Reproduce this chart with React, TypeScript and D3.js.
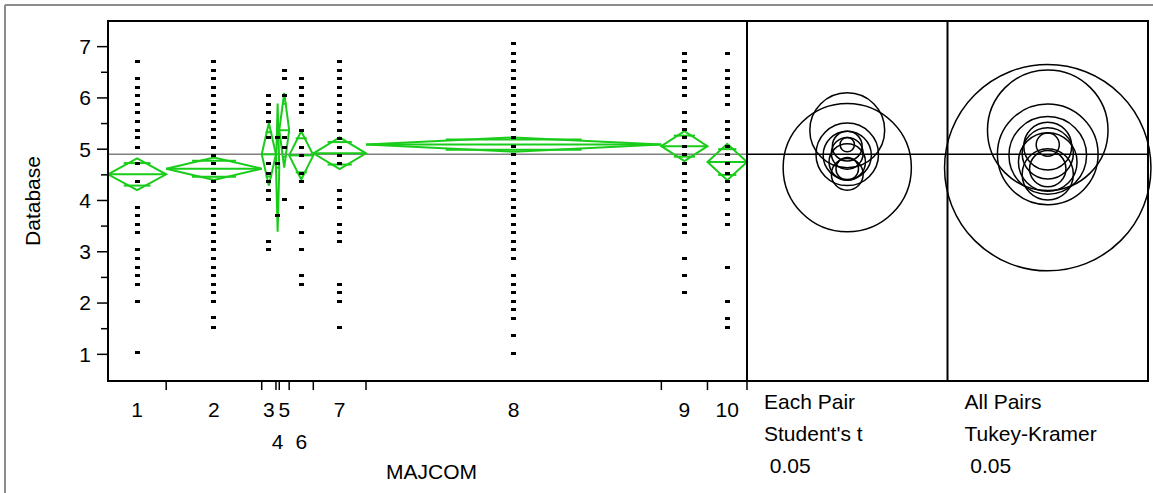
import * as d3 from 'd3';

// MAJCOM groups, sample sizes (x width), means and 95% CI half-widths
const groups = ['1', '2', '3', '4', '5', '6', '7', '8', '9', '10'];
const groupN = [53, 87, 13, 3, 9, 22, 48, 269, 42, 36];
const groupMean = [4.51, 4.62, 4.9, 4.64, 5.37, 4.88, 4.92, 5.09, 5.06, 4.75];
const groupCI = [0.31, 0.22, 0.61, 1.25, 0.73, 0.47, 0.31, 0.14, 0.29, 0.355];

// Database scores per group (distinct values visible)
const pts1 = [6.71, 6.37, 6.2, 6.04, 5.87, 5.71, 5.54, 5.37, 5.22, 5.04, 4.72, 4.37, 3.87, 3.7, 3.54, 3.37, 3.05, 2.87, 2.7, 2.54, 2.37, 2.03, 1.03];
const pts2 = [6.71, 6.54, 6.37, 6.2, 6.04, 5.88, 5.71, 5.54, 5.38, 5.22, 5.04, 4.87, 4.72, 4.53, 4.37, 4.2, 4.02, 3.87, 3.7, 3.54, 3.37, 3.2, 3.05, 2.87, 2.7, 2.54, 2.37, 2.2, 2.03, 1.72, 1.52];
const pts3 = [6.04, 5.88, 5.71, 5.54, 5.22, 4.72, 4.53, 4.37, 4.2, 4.02, 3.2, 3.05];
const pts4 = [5.22, 4.72, 3.7];
const pts5 = [6.54, 6.37, 6.04, 5.22, 5.04, 4.02];
const pts6 = [6.37, 6.2, 6.04, 5.88, 5.71, 5.37, 5.04, 4.87, 4.53, 4.37, 3.87, 3.37, 3.05, 2.54, 2.37];
const pts7 = [6.71, 6.54, 6.37, 6.2, 6.04, 5.88, 5.71, 5.54, 5.37, 5.2, 5.04, 4.87, 4.72, 4.2, 4.02, 3.87, 3.54, 3.37, 3.2, 2.37, 2.2, 2.03, 1.52];
const pts8 = [7.07, 6.87, 6.71, 6.54, 6.37, 6.2, 6.04, 5.88, 5.71, 5.54, 5.38, 5.22, 5.05, 4.89, 4.72, 4.53, 4.37, 4.2, 4.02, 3.87, 3.7, 3.54, 3.37, 3.2, 3.05, 2.87, 2.54, 2.37, 2.2, 2.03, 1.87, 1.7, 1.37, 1.02];
const pts9 = [6.87, 6.71, 6.54, 6.37, 6.2, 6.04, 5.71, 5.54, 5.38, 5.22, 5.05, 4.89, 4.72, 4.53, 4.37, 4.2, 4.02, 3.87, 3.7, 3.54, 3.37, 2.87, 2.54, 2.2];
const pts10 = [6.87, 6.54, 6.37, 6.2, 6.04, 5.88, 5.54, 5.38, 5.22, 5.05, 4.89, 4.72, 4.53, 4.37, 4.2, 4.02, 3.72, 3.54, 2.7, 2.03, 1.7, 1.52];
const groupPoints = [pts1, pts2, pts3, pts4, pts5, pts6, pts7, pts8, pts9, pts10];

const grandMean = 4.9;
const yTicks = [1, 2, 3, 4, 5, 6, 7];
const yMinorTicks = [1.5, 2.5, 3.5, 4.5, 5.5, 6.5];
const lowerRowLabels = ['4', '6'];
const eachPairLines = ['Each Pair', "Student's t", ' 0.05'];
const allPairsLines = ['All Pairs', 'Tukey-Kramer', ' 0.05'];
const tukeyFactor = 1.61; // q/sqrt(2) relative to t

const W = 1153;
const H = 493;
const left = 108;
const right = 747;
const top = 21;
const bottom = 381;
const panelW = 200.5;
const FONT = "'Liberation Sans', Arial, Helvetica, sans-serif";
const GREEN = '#19cc19';

export default function App() {
  const y = d3.scaleLinear().domain([0.48, 7.5]).range([bottom, top]);
  const pxPerUnit = y(0) - y(1);
  const total = d3.sum(groupN);
  const x = d3.scaleLinear().domain([0, total]).range([left, right]);
  const starts = [0, ...Array.from(d3.cumsum(groupN))];

  const p1c = right + panelW / 2;
  const p2c = right + panelW * 1.5;
  const farRight = right + panelW * 2;
  const line = d3.line();

  return (
    <svg
      width={W}
      height={H}
      style={{ position: 'absolute', left: 0, top: 0, background: '#fff' }}
      fontFamily={FONT}
    >
      <rect width={W} height={H} fill="#fff" />
      {/* outer window border */}
      <line x1={5} y1={5} x2={W} y2={5} stroke="#8c8c8c" strokeWidth={2} />
      <line x1={5} y1={5} x2={5} y2={H} stroke="#8c8c8c" strokeWidth={2} />

      {/* grand mean */}
      <line x1={left} x2={right} y1={y(grandMean)} y2={y(grandMean)} stroke="#808080" strokeWidth={1.5} />
      <line x1={right} x2={farRight} y1={y(grandMean)} y2={y(grandMean)} stroke="#000" strokeWidth={1.5} />

      {/* means diamonds */}
      {groups.map((g, i) => {
        const x0 = x(starts[i]);
        const x1 = x(starts[i + 1]);
        const xc = (x0 + x1) / 2;
        const w = x1 - x0;
        const m = groupMean[i];
        const ci = groupCI[i];
        const d = line([
          [x0, y(m)],
          [xc, y(m + ci)],
          [x1, y(m)],
          [xc, y(m - ci)],
        ]) + 'Z';
        const ov = ci / Math.SQRT2;
        return (
          <g key={'d' + g} stroke={GREEN} strokeWidth={2} fill="none">
            <path d={d} strokeLinejoin="miter" />
            <line x1={x0} x2={x1} y1={y(m)} y2={y(m)} />
            <line x1={xc - w * 0.23} x2={xc + w * 0.23} y1={y(m + ov)} y2={y(m + ov)} />
            <line x1={xc - w * 0.23} x2={xc + w * 0.23} y1={y(m - ov)} y2={y(m - ov)} />
          </g>
        );
      })}

      {/* points */}
      {groupPoints.map((vals, i) => {
        const xc = (x(starts[i]) + x(starts[i + 1])) / 2;
        return vals.map((v, j) => (
          <rect
            key={'p' + i + '-' + j}
            x={Math.round(xc - 2.5)}
            y={Math.round(y(v) - 1.5)}
            width={5}
            height={3}
            fill="#000"
          />
        ));
      })}

      {/* comparison circles */}
      {groups.map((g, i) => (
        <g key={'c' + g} fill="none" stroke="#000" strokeWidth={1.5}>
          <circle cx={p1c} cy={y(groupMean[i])} r={groupCI[i] * pxPerUnit} />
          <circle cx={p2c} cy={y(groupMean[i])} r={groupCI[i] * pxPerUnit * tukeyFactor} />
        </g>
      ))}

      {/* frames */}
      <rect x={left} y={top} width={farRight - left} height={bottom - top} fill="none" stroke="#000" strokeWidth={2} />
      <line x1={right} x2={right} y1={top} y2={bottom} stroke="#000" strokeWidth={2} />
      <line x1={right + panelW} x2={right + panelW} y1={top} y2={bottom} stroke="#000" strokeWidth={2} />

      {/* y axis */}
      {yTicks.map((t) => (
        <g key={'yt' + t}>
          <line x1={left - 11} x2={left} y1={y(t)} y2={y(t)} stroke="#000" strokeWidth={1.5} />
          <text x={left - 17} y={y(t)} dy="0.35em" textAnchor="end" fontSize={21}>
            {t}
          </text>
        </g>
      ))}
      {yMinorTicks.map((t) => (
        <line key={'ym' + t} x1={left - 7} x2={left} y1={y(t)} y2={y(t)} stroke="#000" strokeWidth={1.5} />
      ))}
      <text transform={`translate(39.5,${(top + bottom) / 2}) rotate(-90)`} textAnchor="middle" fontSize={21}>
        Database
      </text>

      {/* x axis */}
      {starts.slice(1).map((s, i) => (
        <line key={'xt' + i} x1={x(s)} x2={x(s)} y1={bottom} y2={bottom + 9} stroke="#000" strokeWidth={1.5} />
      ))}
      {groups.map((g, i) => {
        const xc = (x(starts[i]) + x(starts[i + 1])) / 2;
        const lower = lowerRowLabels.includes(g);
        return (
          <text key={'xl' + g} x={xc} y={lower ? 449 : 417} textAnchor="middle" fontSize={21}>
            {g}
          </text>
        );
      })}
      <text x={(left + right) / 2 + 4} y={479} textAnchor="middle" fontSize={21}>
        MAJCOM
      </text>

      {/* comparison labels */}
      {eachPairLines.map((s, i) => (
        <text key={'ep' + i} x={right + 17} y={409 + i * 32} fontSize={21} style={{ whiteSpace: 'pre' }}>
          {s}
        </text>
      ))}
      {allPairsLines.map((s, i) => (
        <text key={'ap' + i} x={right + panelW + 17} y={409 + i * 32} fontSize={21} style={{ whiteSpace: 'pre' }}>
          {s}
        </text>
      ))}
    </svg>
  );
}
